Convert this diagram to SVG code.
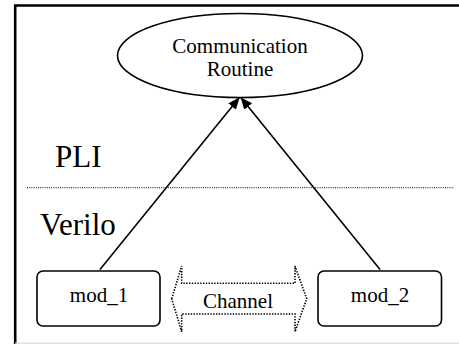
<svg xmlns="http://www.w3.org/2000/svg" width="459" height="344" viewBox="0 0 459 344">
  <style>
    .lbl { font-family: "Liberation Serif", "Times New Roman", serif; fill: #000; text-anchor: middle; }
    .big { font-family: "Liberation Serif", "Times New Roman", serif; fill: #000; font-size: 31px; }
    .node { fill: #fff; stroke: #000; stroke-width: 1.6; }
    .edge { fill: none; stroke: #000; stroke-width: 1.6; }
  </style>
  <defs>
    <marker id="head" viewBox="0 0 12 10" refX="12" refY="5" markerWidth="12" markerHeight="10" markerUnits="userSpaceOnUse" orient="auto">
      <path d="M0,0 L12,5 L0,10 Z" fill="#000"/>
    </marker>
  </defs>

  <rect width="459" height="344" fill="#fff"/>

  <!-- frame -->
  <path d="M462,5.5 H15.2 V344" fill="none" stroke="#000" stroke-width="2.6"/>
  <line x1="15" y1="343.2" x2="459" y2="343.2" stroke="#d8d8d8" stroke-width="1.2"/>

  <!-- layer divider and labels -->
  <line x1="27" y1="187.7" x2="454" y2="187.7" stroke="#000" stroke-width="1" stroke-dasharray="1,1.2"/>
  <text class="big" x="55" y="166.5">PLI</text>
  <text class="big" x="40" y="235">Verilo</text>

  <!-- connectors -->
  <g id="connectors">
    <line class="edge" x1="100" y1="269.5" x2="239.6" y2="97.2" marker-end="url(#head)"/>
    <line class="edge" x1="380" y1="269.5" x2="240.6" y2="97.2" marker-end="url(#head)"/>
    <path id="channel" d="M171.7,298.7 L181.7,266 V283.3 H295 V266 L306.7,298.7 L295,331.7 V314 H181.7 V331.7 Z" fill="none" stroke="#000" stroke-width="1.6" stroke-dasharray="1.4,1.4"/>
    <text class="lbl" x="238" y="308" font-size="21">Channel</text>
  </g>

  <g id="comm-routine">
    <ellipse class="node" cx="240" cy="55.5" rx="122.5" ry="42"/>
    <text class="lbl" x="240" y="52.5" font-size="21">Communication</text>
    <text class="lbl" x="240" y="76" font-size="21">Routine</text>
  </g>

  <g id="mod_1">
    <rect class="node" x="37" y="271" width="123" height="55" rx="6"/>
    <text class="lbl" x="99" y="302" font-size="21">mod_1</text>
  </g>

  <g id="mod_2">
    <rect class="node" x="318" y="271" width="123.5" height="55" rx="6"/>
    <text class="lbl" x="380" y="302" font-size="21">mod_2</text>
  </g>
</svg>
